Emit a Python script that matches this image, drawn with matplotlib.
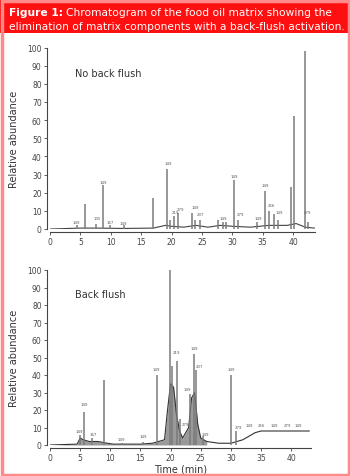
#
# Chromatogram figure: food oil matrix with / without back flush
#
import matplotlib
matplotlib.use('Agg')
import numpy as np
import matplotlib.pyplot as plt
from matplotlib.patches import Rectangle

#
# Data
#
# No back flush: peak retention times (min) and heights (% abundance)
top_t = [4.5, 5.7, 7.6, 8.7, 9.9, 12.2, 17.0, 19.3, 19.8, 20.4, 21.1, 23.4, 23.9, 24.6,
         27.6, 28.4, 29.0, 30.3, 30.9, 34.0, 35.4, 36.1, 36.8, 37.5, 39.6, 40.1, 41.9, 42.4]
top_h = [2, 14, 3, 24, 2, 2, 17, 33, 5, 7, 9, 9, 5, 5,
         5, 4, 4, 27, 5, 4, 21, 10, 8, 5, 23, 62, 98, 4]
# peak annotations (time, label height, text)
top_lab_t = [4.4, 7.7, 8.7, 9.9, 12.1, 19.4, 20.6, 21.4, 23.9, 24.8, 28.5, 30.4, 31.3, 34.2, 35.4, 36.4, 37.8, 42.3]
top_lab_y = [3, 5, 25, 3, 2, 35, 8, 10, 11, 7, 5, 28, 7, 5, 23, 12, 8, 8]
top_lab_s = ['149', '135', '149', '167', '149', '149', '219', '279', '149', '237', '149', '149',
             '279', '149', '149', '256', '149', '279']
# baseline of the No back flush trace
top_base_t = [0, 5, 8, 12, 17, 19, 20, 22, 24, 26, 28, 30, 33, 36, 39, 40.5, 42, 43.5]
top_base_y = [0, 0.5, 0.5, 0.3, 0.5, 2, 1.5, 1, 2, 1, 2, 1.5, 1, 2, 2, 3, 1, 0.5]

# Back flush: peaks
bot_t = [5.0, 5.7, 7.0, 9.0, 12.0, 15.5, 17.7, 19.9, 20.3, 21.0, 21.5, 23.3, 23.9, 24.3, 25.4, 30.1, 30.8]
bot_h = [6, 19, 4, 37, 1, 2, 40, 100, 45, 48, 15, 29, 52, 43, 5, 40, 8]
bot_lab_t = [4.8, 5.7, 7.2, 11.9, 15.5, 17.7, 21.0, 22.4, 22.8, 23.9, 24.8, 25.8, 30.1,
             31.3, 33.0, 35.0, 37.2, 39.4, 41.2]
bot_lab_y = [7, 22, 5, 2, 4, 42, 52, 11, 31, 54, 44, 5, 42, 9, 10, 10, 10, 10, 10]
bot_lab_s = ['149', '149', '167', '149', '149', '149', '219', '279', '149', '149', '237',
             '149', '149', '279', '149', '256', '149', '279', '149']
# envelope of the unresolved matrix humps and the rising baseline after 30 min
bot_base_t = [0, 4.5, 5.0, 5.5, 6.5, 8.0, 9.5, 10.5, 15, 17, 19, 19.5, 20, 20.5, 21, 21.5,
              22, 23, 23.5, 24, 24.5, 25, 26, 28, 30, 31, 32, 33, 34, 35, 37, 43]
bot_base_y = [0, 0.5, 4, 3, 2, 2, 1, 0.5, 0.5, 1, 3, 20, 35, 33, 17, 8,
              4, 10, 27, 30, 12, 4, 2, 1, 1, 2, 3, 5, 7, 8, 8, 8]

yticks = list(range(0, 101, 10))
xticks = list(range(0, 41, 5))

#
# Figure
#
plt.rcParams['font.family'] = ['DejaVu Sans']
fig = plt.figure(figsize=(3.5, 4.77), dpi=100)
W, H = 350.0, 477.0

# red banner with caption
fig.patches.append(Rectangle((0, 1 - 34 / H), 1, 34 / H, transform=fig.transFigure,
                             facecolor='#ff1010', edgecolor='none', zorder=0))
# thin red frame round the figure body
fig.patches.append(Rectangle((1.5 / W, 1.5 / H), 1 - 3 / W, 1 - 3 / H, transform=fig.transFigure,
                             facecolor='none', edgecolor='#ff8a8a', linewidth=2.5, zorder=0))
fs_cap = 7.7
t1 = fig.text(9 / W, 1 - 13 / H, 'Figure 1:', color='white', fontsize=fs_cap, fontweight='bold',
              va='center', ha='left')
# place the rest of line 1 right after the bold part
fig.canvas.draw()
bb = t1.get_window_extent()
fig.text(bb.x1 / W + 3 / W, 1 - 13 / H, 'Chromatogram of the food oil matrix showing the',
         color='white', fontsize=fs_cap, va='center', ha='left')
fig.text(9 / W, 1 - 27 / H, 'elimination of matrix components with a back-flush activation.',
         color='white', fontsize=fs_cap, va='center', ha='left')

line_c = '#7a7a7a'
lab_c = '#555555'


def style_axes(ax, xmax):
    ax.set_xlim(0, xmax)
    ax.set_ylim(0, 100)
    ax.set_yticks(yticks)
    ax.set_xticks(xticks)
    ax.spines['top'].set_visible(False)
    ax.spines['right'].set_visible(False)
    for s in ['left', 'bottom']:
        ax.spines[s].set_color('#444444')
        ax.spines[s].set_linewidth(0.8)
        ax.spines[s].set_position(('outward', 2))
    ax.tick_params(labelsize=5.5, colors='#444444', length=2, width=0.6, pad=2)
    ax.set_ylabel('Relative abundance', fontsize=7, color='#333333', labelpad=6)


# top panel: no back flush
ax1 = fig.add_axes([50 / W, 1 - 230 / H, 265 / W, 181.5 / H])
ax1.plot(top_base_t, top_base_y, color='#444444', lw=0.8)
ax1.vlines(top_t, 0, top_h, color=line_c, lw=1.1)
for t, y, s in zip(top_lab_t, top_lab_y, top_lab_s):
    ax1.text(t, y, s, fontsize=2.8, color=lab_c, ha='center', va='bottom')
ax1.text(4.1, 86, 'No back flush', fontsize=7, color='#333333', va='center')
style_axes(ax1, 43.6)

# bottom panel: back flush
ax2 = fig.add_axes([50 / W, 1 - 446 / H, 261 / W, 175 / H])
bt = np.array(bot_base_t)
ax2.fill_between(bt, 0, bot_base_y, where=bt <= 26, color='#9a9a9a', lw=0)
ax2.plot(bot_base_t, bot_base_y, color='#333333', lw=0.8)
ax2.vlines(bot_t, 0, bot_h, color=line_c, lw=1.1)
for t, y, s in zip(bot_lab_t, bot_lab_y, bot_lab_s):
    ax2.text(t, y, s, fontsize=2.8, color=lab_c, ha='center', va='bottom')
ax2.text(4.1, 86, 'Back flush', fontsize=7, color='#333333', va='center')
style_axes(ax2, 43.3)
ax2.set_xlabel('Time (min)', fontsize=7, color='#333333', labelpad=1)

fig.savefig('out.png', dpi=100)
